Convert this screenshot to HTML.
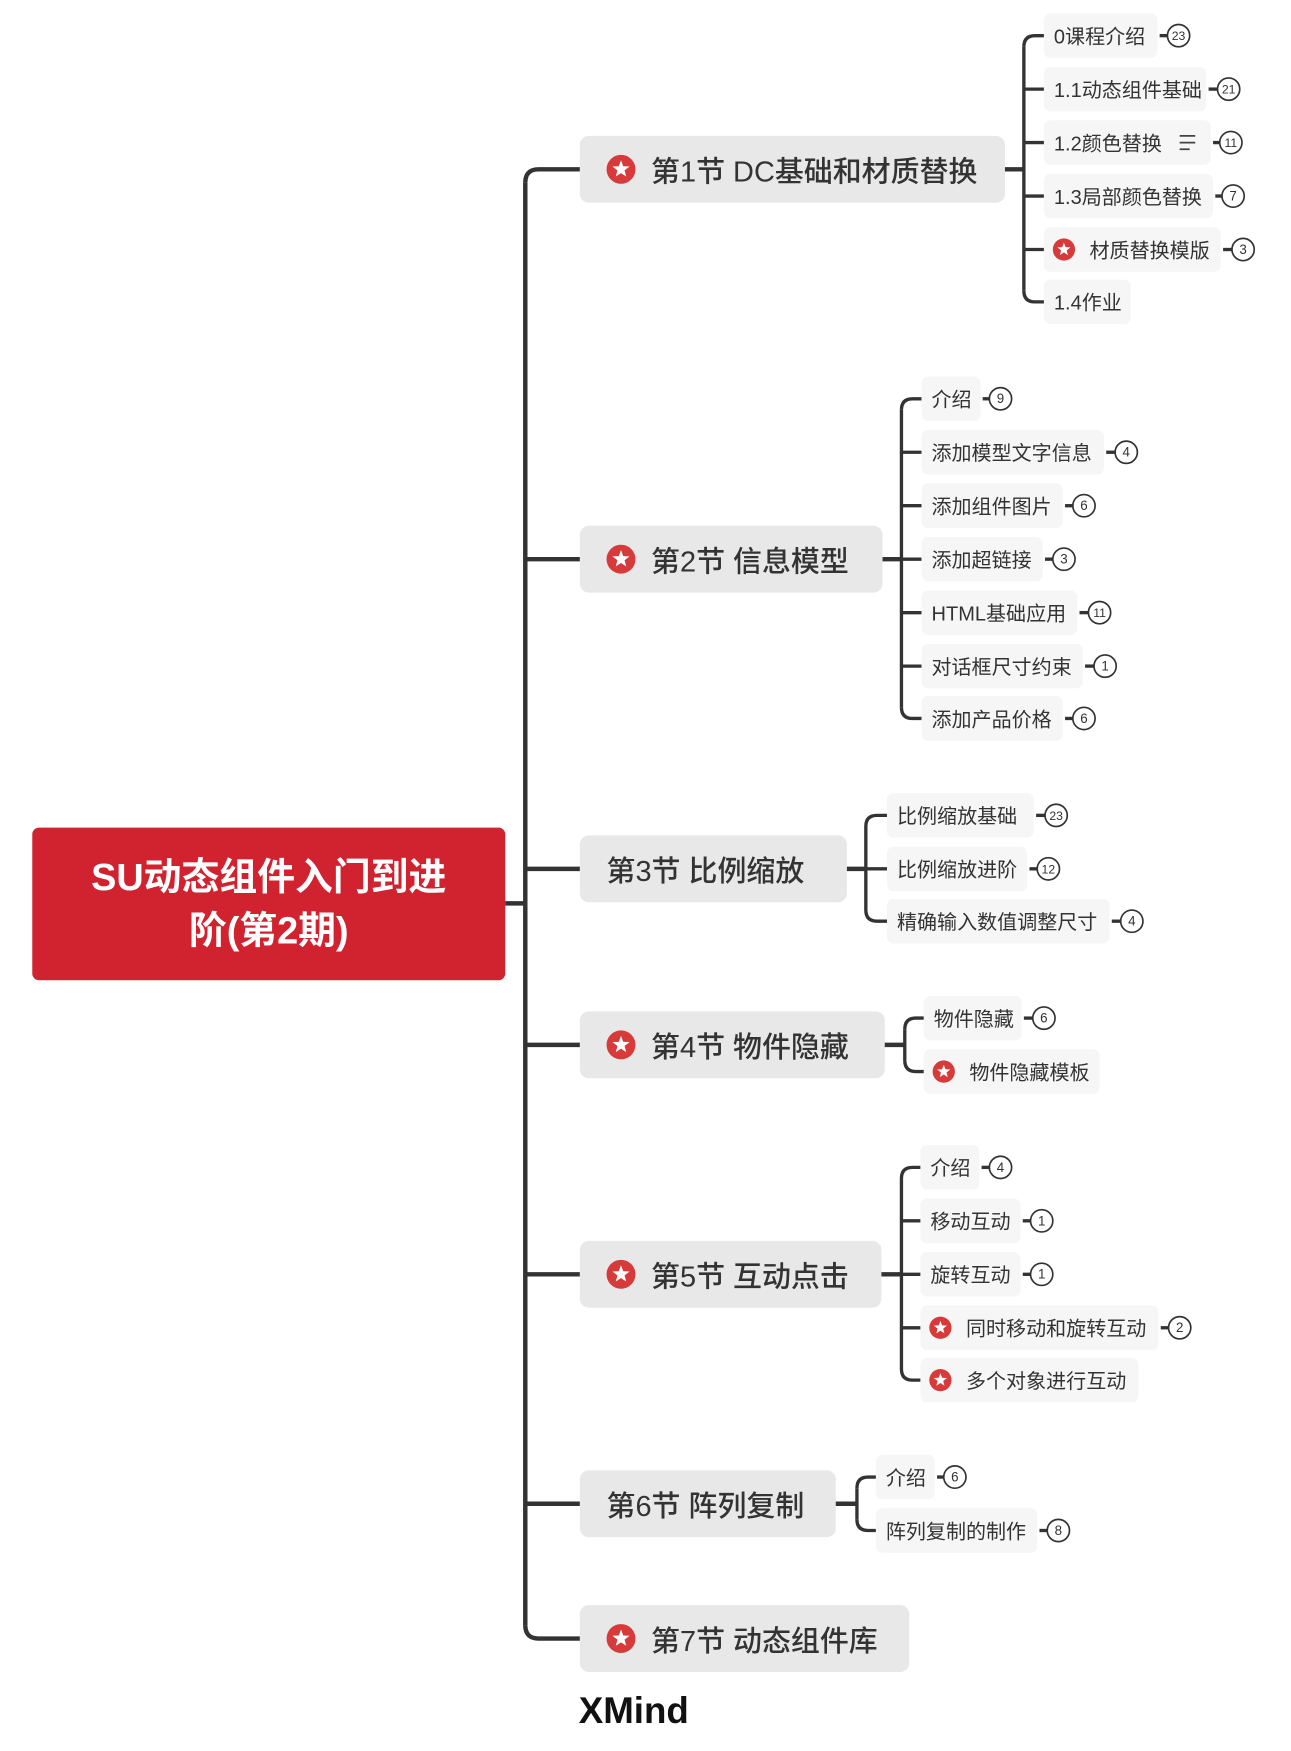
<!DOCTYPE html>
<html><head><meta charset="utf-8">
<style>
html,body{margin:0;padding:0;background:#fff;width:1291px;height:1751px;overflow:hidden}
#c{position:absolute;left:0;top:0;width:1160px;height:1572px;transform-origin:0 0;transform:scale(1.1129,1.1139);font-family:"Liberation Sans","Noto Sans CJK SC",sans-serif;color:#333}
.b{position:absolute;box-sizing:border-box;display:flex;align-items:center;white-space:nowrap}
.m{background:#e8e8e8;border-radius:8px;font-size:26px;font-weight:500;height:60px}
.s{background:#f6f6f6;border-radius:6px;font-size:18px;height:40px;padding-left:9px}
svg{position:absolute;left:0;top:0;z-index:5}
</style></head><body>
<div id="c">
<svg id="g" width="1160" height="1572"></svg>
<div class="b" style="left:29px;top:743px;width:425px;height:137px;background:#d0222f;border-radius:6px;color:#fff;font-size:34px;font-weight:bold;justify-content:center;text-align:center;line-height:48px;white-space:normal;padding:0 10px">SU动态组件入门到进<br>阶(第2期)</div>
<div class="b" style="left:520px;top:1518px;font-size:33px;font-weight:bold;color:#111;height:36px">XMind</div>
</div>
<script>
var c=document.getElementById('c'),g=document.getElementById('g');
var svgs='';
function star(x,y,r){var p=[];for(var i=0;i<10;i++){var a=-Math.PI/2+i*Math.PI/5,rr=i%2?r*0.26:r*0.62;p.push((x+rr*Math.cos(a)).toFixed(1)+','+(y+rr*Math.sin(a)).toFixed(1));}
return '<circle cx="'+x+'" cy="'+y+'" r="'+r+'" fill="#d63a3a"/><polygon points="'+p.join(' ')+'" fill="#fff"/>';}
function line(d,w){svgs+='<path d="'+d+'" stroke="#333" stroke-width="'+(w||4)+'" fill="none" stroke-linecap="butt"/>';}
function box(cls,x,y,w,txt,ip){var d=document.createElement('div');d.className='b '+cls;var h=cls=='m'?60:40;d.style.left=x+'px';d.style.top=(y-h/2)+'px';d.style.width=w+'px';
d.style.paddingLeft=ip+'px';d.textContent=txt;c.appendChild(d);}
line('M454,811 H472',4);
var mains=[[152,903,'第1节 DC基础和材质替换',1],[502,793,'第2节 信息模型',1],[780,761,'第3节  比例缩放',0],[938,795,'第4节 物件隐藏',1],[1144,792,'第5节 互动点击',1],[1350,751,'第6节 阵列复制',0],[1471,817,'第7节 动态组件库',1]];
line('M472,164 V1459',4);
mains.forEach(function(m,i){var y=m[0];
 if(i==0) line('M521,152 H484 Q472,152 472,164',4);
 else if(i==mains.length-1) line('M521,1471 H484 Q472,1471 472,1459',4);
 else line('M472,'+y+' H521',4);
 box('m',521,y,m[1]-521,m[2],m[3]?64:24);
 if(m[3]) svgs+=star(558,y,13);
});
var groups=[
 [152,903,920,938,[[32,1040,'0课程介绍','23',1059],[80,1084,'1.1动态组件基础','21',1104],[128,1088,'1.2颜色替换','11',1106,1],[176,1090,'1.3局部颜色替换','7',1108],[224,1097,'材质替换模版','3',1117,0,1],[271,1016,'1.4作业']]],
 [502,793,810,828,[[358,881,'介绍','9',899],[406,992,'添加模型文字信息','4',1012],[454,955,'添加组件图片','6',974],[502,937,'添加超链接','3',956],[550,968,'HTML基础应用','11',988],[598,973,'对话框尺寸约束','1',993],[645,955,'添加产品价格','6',974]]],
 [780,761,778,797,[[732,929,'比例缩放基础','23',949],[780,923,'比例缩放进阶','12',942],[827,997,'精确输入数值调整尺寸','4',1017]]],
 [938,795,813,830,[[914,918,'物件隐藏','6',938],[962,988,'物件隐藏模板',0,0,0,1]]],
 [1144,792,810,827,[[1048,880,'介绍','4',899],[1096,917,'移动互动','1',936],[1144,917,'旋转互动','1',936],[1192,1041,'同时移动和旋转互动','2',1060,0,1],[1239,1023,'多个对象进行互动',0,0,0,1]]],
 [1350,751,770,787,[[1326,840,'介绍','6',858],[1374,932,'阵列复制的制作','8',951]]]
];
groups.forEach(function(G){var py=G[0],px=G[1],vx=G[2],bx=G[3],ch=G[4];
 line('M'+px+','+py+' H'+vx,4);
 var y0=ch[0][0],y1=ch[ch.length-1][0];
 line('M'+vx+','+(y0+10)+' V'+(y1-10),3);
 ch.forEach(function(k,i){var y=k[0];
  if(i==0) line('M'+bx+','+y+' H'+(vx+10)+' Q'+vx+','+y+' '+vx+','+(y+10),3);
  else if(i==ch.length-1) line('M'+bx+','+y+' H'+(vx+10)+' Q'+vx+','+y+' '+vx+','+(y-10),3);
  else line('M'+vx+','+y+' H'+bx,3);
  var st=k[6];
  box('s',bx,y,k[1]-bx,k[2],st?41:9);
  if(st) svgs+=star(bx+18,y,10);
  if(k[5]){var lx=k[1]-28;svgs+='<path d="M'+lx+','+(y-6)+' h14 M'+lx+','+y+' h14 M'+lx+','+(y+6)+' h9" stroke="#444" stroke-width="1.6"/>';}
  if(k[3]){var cx=k[4];line('M'+(k[1]+2)+','+y+' H'+(cx-10),3);
   svgs+='<circle cx="'+cx+'" cy="'+y+'" r="10" fill="#fff" stroke="#333" stroke-width="1.5"/><text x="'+cx+'" y="'+(y+4)+'" font-size="'+(k[3].length>1?11:12)+'" text-anchor="middle" fill="#333" font-family="Liberation Sans,sans-serif">'+k[3]+'</text>';}
 });
});
g.innerHTML=svgs;
</script>
</body></html>
